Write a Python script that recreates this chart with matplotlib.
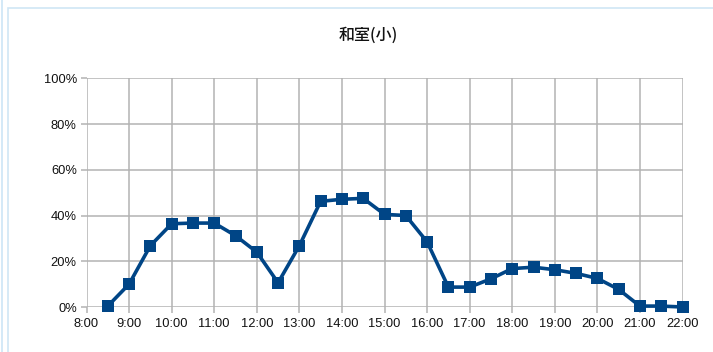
import matplotlib
matplotlib.use("Agg")
import matplotlib.pyplot as plt
from matplotlib.patches import Rectangle
from matplotlib.ticker import FuncFormatter

title = "和室(小)"
times = [8.5, 9.0, 9.5, 10.0, 10.5, 11.0, 11.5, 12.0, 12.5, 13.0, 13.5, 14.0, 14.5,
         15.0, 15.5, 16.0, 16.5, 17.0, 17.5, 18.0, 18.5, 19.0, 19.5, 20.0, 20.5,
         21.0, 21.5, 22.0]
values = [0.4, 10.0, 26.8, 36.4, 36.7, 36.7, 31.2, 24.0, 10.6, 26.8, 46.2, 47.1, 47.5,
          40.5, 40.0, 28.5, 8.7, 8.7, 12.3, 16.8, 17.4, 16.3, 14.7, 12.5, 7.7,
          0.4, 0.4, 0.0]
xticks = list(range(8, 23))
xticklabels = [f"{h}:00" for h in xticks]
yticks = [0, 20, 40, 60, 80, 100]

W, H = 713, 352
fig = plt.figure(figsize=(W / 100, H / 100), dpi=100)

# outer light-blue frames
fig.patches.append(Rectangle((2 / W, -0.1), 0.0, 1.2, transform=fig.transFigure,
                             fill=False, edgecolor="#d4e9f7", linewidth=1.2))
fig.patches.append(Rectangle((8 / W, -0.1), 1.2, 1 - 8 / H + 0.1, transform=fig.transFigure,
                             fill=False, edgecolor="#cfe6f5", linewidth=1.2))

left, right = 86.5 / W, 682.5 / W
bottom, top = 1 - 307 / H, 1 - 78.3 / H
ax = fig.add_axes([left, bottom, right - left, top - bottom])

ax.plot(times, values, color="#004586", linewidth=2.6, marker="s", markersize=9,
        markeredgewidth=0, zorder=3, clip_on=False)

ax.set_xlim(8, 22)
ax.set_ylim(0, 100)
ax.set_xticks(xticks)
ax.set_xticklabels(xticklabels)
ax.set_yticks(yticks)
ax.yaxis.set_major_formatter(FuncFormatter(lambda v, p: f"{int(v)}%"))
ax.grid(True, color="#b3b3b3", linewidth=1.1)
for s in ax.spines.values():
    s.set_visible(False)
ax.tick_params(axis="both", length=4, width=1.1, color="#b3b3b3",
               labelsize=9.3, labelcolor="#111111")
ax.tick_params(axis="x", pad=4)
ax.tick_params(axis="y", pad=3)
for lbl in ax.get_xticklabels() + ax.get_yticklabels():
    lbl.set_fontfamily(["Liberation Sans", "DejaVu Sans"])

fig.text(368.5 / W, 1 - 35 / H, title, ha="center", va="center", fontsize=11.5,
         fontweight="medium", family=["Noto Sans CJK JP", "DejaVu Sans"], color="#111111")

fig.savefig("out.png", dpi=100, facecolor="white")
